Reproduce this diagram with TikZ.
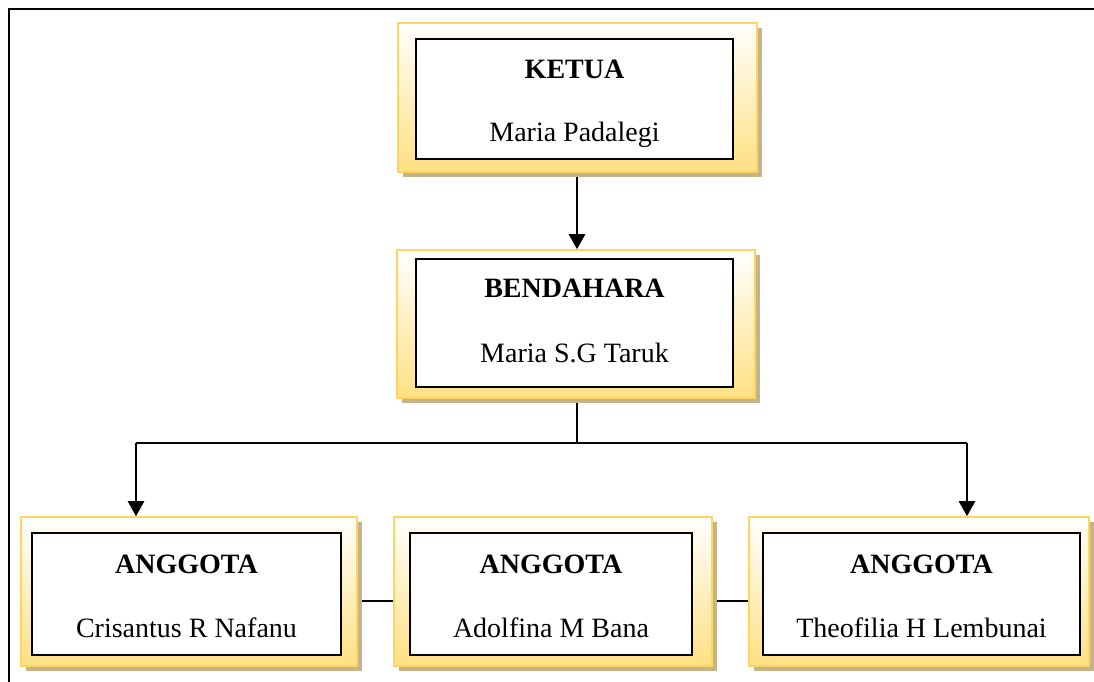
\documentclass[tikz,border=0pt]{standalone}
\usepackage{fontspec}
\setmainfont{Liberation Serif}
\usetikzlibrary{arrows.meta,calc,shadows}
\definecolor{boxgold}{RGB}{255,212,96}
\definecolor{boxyel}{RGB}{255,224,130}
\definecolor{shadowtan}{RGB}{196,180,136}
\tikzset{
  outerbox/.style={draw=boxgold, line width=1.6pt, top color=white, bottom color=boxyel,
    drop shadow={shadow xshift=4.5pt, shadow yshift=-4.5pt, fill=shadowtan, opacity=1},
    inner sep=0pt},
  innerbox/.style={draw=black, line width=1.5pt, fill=white, inner sep=0pt},
  titletext/.style={anchor=base, inner sep=0pt, font=\fontsize{28}{32}\selectfont\bfseries},
  nametext/.style={anchor=base, inner sep=0pt, font=\fontsize{28}{32}\selectfont},
  arr/.style={line width=2.6pt, -{Triangle[length=15pt,width=16pt]}},
  conn/.style={line width=2pt},
  sideconn/.style={line width=1.5pt}
}
\begin{document}
\begin{tikzpicture}[x=1pt,y=-1pt]
\useasboundingbox (0,0) rectangle (1094,681);
\begin{scope}
\clip (0,0) rectangle (1094,681);
\draw[line width=2.6pt] (9,700) -- (9,9) -- (1110,9);
\end{scope}

% KETUA
\node[outerbox, minimum width=359pt, minimum height=149pt] (ketua) at (577.5,97.5) {};
\node[innerbox, minimum width=317pt, minimum height=120pt] (ketuaI) at (574.5,99) {};
\node[titletext] (ketuaT) at (574.5,78) {KETUA};
\node[nametext] (ketuaN) at (574.5,141) {Maria Padalegi};

% BENDAHARA
\node[outerbox, minimum width=358pt, minimum height=148pt] (bend) at (576,324) {};
\node[innerbox, minimum width=317pt, minimum height=128pt] (bendI) at (574.5,323) {};
\node[titletext] (bendT) at (574.5,297) {BENDAHARA};
\node[nametext] (bendN) at (574.5,362) {Maria S.G Taruk};

% ANGGOTA 1
\node[outerbox, minimum width=336pt, minimum height=149pt] (a1) at (189,591.5) {};
\node[innerbox, minimum width=309pt, minimum height=122pt] (a1I) at (186.5,594) {};
\node[titletext] (a1T) at (186.5,573) {ANGGOTA};
\node[nametext] (a1N) at (186.5,637) {Crisantus R Nafanu};

% ANGGOTA 2
\node[outerbox, minimum width=318pt, minimum height=149pt] (a2) at (553,591.5) {};
\node[innerbox, minimum width=282pt, minimum height=122pt] (a2I) at (551,594) {};
\node[titletext] (a2T) at (551,573) {ANGGOTA};
\node[nametext] (a2N) at (551,637) {Adolfina M Bana};

% ANGGOTA 3
\node[outerbox, minimum width=340pt, minimum height=149pt] (a3) at (919,591.5) {};
\node[innerbox, minimum width=317pt, minimum height=122pt] (a3I) at (921.5,594) {};
\node[titletext] (a3T) at (921.5,573) {ANGGOTA};
\node[nametext] (a3N) at (921.5,637) {Theofilia H Lembunai};

% connectors
\coordinate (split) at (577,443);
\coordinate (jl) at (136,443);
\coordinate (jr) at (967,443);
\draw[arr] ([yshift=-4pt]ketua.south -| split) -- (bend.north -| split);
\draw[conn] ([yshift=-4pt]bend.south -| split) -- (split);
\draw[conn] (jl) -- (jr);
\draw[arr] (jl) -- (jl |- a1.north);
\draw[arr] (jr) -- (jr |- a3.north);
\draw[sideconn] ([xshift=4.5pt,yshift=-9.5pt]a1.east) -- ([yshift=-9.5pt]a2.west);
\draw[sideconn] ([xshift=4.5pt,yshift=-9.5pt]a2.east) -- ([yshift=-9.5pt]a3.west);
\end{tikzpicture}
\end{document}
